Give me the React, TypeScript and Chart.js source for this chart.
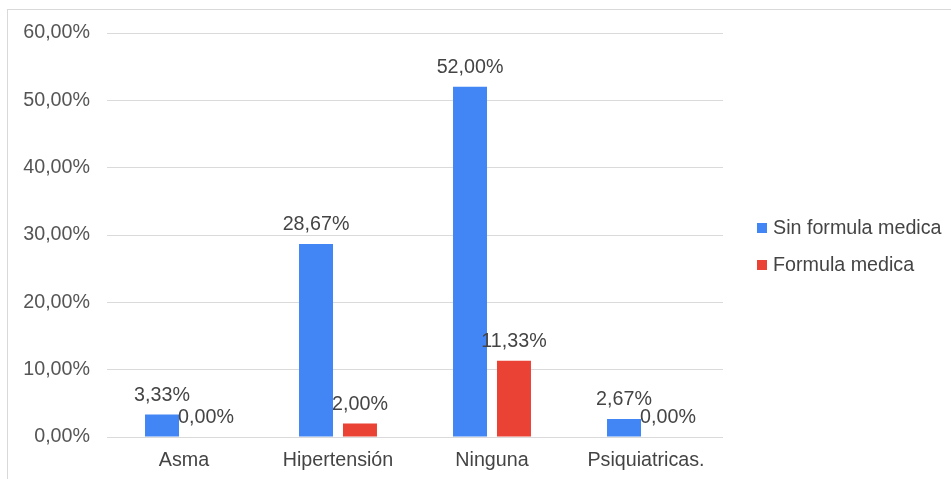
import React, { useEffect, useRef } from "react";
import { Chart, registerables } from "chart.js";

Chart.register(...registerables);

const categories = ["Asma", "Hipertensión", "Ninguna", "Psiquiatricas."];
const seriesNames = ["Sin formula medica", "Formula medica"];
const sinFormula = [3.33, 28.67, 52.0, 2.67];
const conFormula = [0.0, 2.0, 11.33, 0.0];
const seriesColors = ["#4285F4", "#EA4335"];
const yTicks = [0, 10, 20, 30, 40, 50, 60];

const FONT = "'Liberation Sans', Arial, sans-serif";
const FONT_SIZE = 19.7;

const fmt = (v: number) => v.toFixed(2).replace(".", ",") + "%";

const labelsPlugin = {
  id: "barLabels",
  afterDatasetsDraw(chart: any) {
    const ctx = chart.ctx;
    ctx.save();
    ctx.font = `${FONT_SIZE}px ${FONT}`;
    ctx.fillStyle = "#444444";
    ctx.textAlign = "center";
    ctx.textBaseline = "alphabetic";
    chart.data.datasets.forEach((ds: any, di: number) => {
      const meta = chart.getDatasetMeta(di);
      meta.data.forEach((el: any, i: number) => {
        ctx.fillText(fmt(ds.data[i]), el.x, el.y - 14);
      });
    });
    ctx.restore();
  },
};

const legendPlugin = {
  id: "sideLegend",
  afterDraw(chart: any) {
    const ctx = chart.ctx;
    const area = chart.chartArea;
    ctx.save();
    ctx.font = `${FONT_SIZE}px ${FONT}`;
    ctx.textAlign = "left";
    ctx.textBaseline = "middle";
    const x0 = area.right + 34;
    const rows = [area.top + 195, area.top + 232];
    chart.data.datasets.forEach((ds: any, i: number) => {
      const cy = rows[i];
      ctx.fillStyle = ds.backgroundColor;
      ctx.fillRect(x0, cy - 5, 10, 10);
      ctx.fillStyle = "#444444";
      ctx.fillText(ds.label, x0 + 16, cy + 1);
    });
    ctx.restore();
  },
};

export default function App() {
  const ref = useRef<HTMLCanvasElement | null>(null);

  useEffect(() => {
    document.documentElement.style.overflow = "hidden";
    document.body.style.overflow = "hidden";
    if (!ref.current) return;
    const chart = new Chart(ref.current, {
      type: "bar",
      data: {
        labels: categories,
        datasets: [
          {
            label: seriesNames[0],
            data: sinFormula,
            backgroundColor: seriesColors[0],
            categoryPercentage: 0.571,
            barPercentage: 0.773,
          },
          {
            label: seriesNames[1],
            data: conFormula,
            backgroundColor: seriesColors[1],
            categoryPercentage: 0.571,
            barPercentage: 0.773,
          },
        ],
      },
      options: {
        animation: false,
        responsive: false,
        maintainAspectRatio: false,
        layout: { padding: { top: 23, right: 228, bottom: 0, left: 0 } },
        plugins: {
          legend: { display: false },
          tooltip: { enabled: false },
        },
        scales: {
          x: {
            grid: { display: false, drawTicks: false },
            border: { display: false },
            ticks: {
              color: "#444444",
              font: { family: FONT, size: FONT_SIZE },
              padding: 12,
              maxRotation: 0,
            },
            afterFit: (s: any) => {
              s.height = 42;
              s.paddingLeft = 0;
              s.paddingRight = 0;
            },
          },
          y: {
            min: 0,
            max: 60,
            afterBuildTicks: (s: any) => {
              s.ticks = yTicks.map((v) => ({ value: v }));
            },
            grid: { color: "#dadada", lineWidth: 1, drawTicks: false },
            border: { display: false },
            ticks: {
              color: "#555555",
              font: { family: FONT, size: FONT_SIZE },
              padding: 17,
              callback: (v: any) => fmt(Number(v)),
            },
            afterFit: (s: any) => {
              s.width = 99;
              s.paddingTop = 0;
              s.paddingBottom = 0;
            },
          },
        },
      },
      plugins: [labelsPlugin, legendPlugin],
    });
    return () => chart.destroy();
  }, []);

  return (
    <div
      style={{
        position: "absolute",
        left: 7,
        top: 9,
        width: 960,
        height: 480,
        border: "1px solid #d9d9d9",
        background: "#ffffff",
      }}
    >
      <canvas ref={ref} width={943} height={469} style={{ display: "block" }} />
    </div>
  );
}
